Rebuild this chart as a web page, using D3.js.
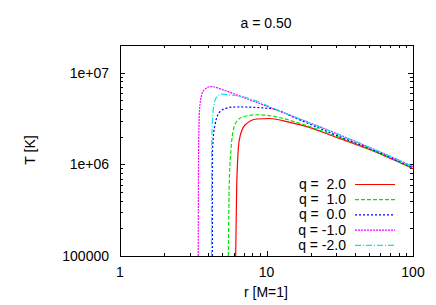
<!DOCTYPE html>
<html>
<head>
<meta charset="utf-8">
<script src="https://cdn.jsdelivr.net/npm/d3@7"></script>
<style>
  body { margin: 0; background: #fff; }
  text { font-family: "Liberation Sans", Arial, sans-serif; font-size: 14px; fill: #000; }
</style>
</head>
<body>
<div id="chart"><svg></svg></div>
<script>
const width = 436;
const height = 305;

// values, [r, T]
const qLabels = ['q =  2.0', 'q =  1.0', 'q =  0.0', 'q = -1.0', 'q = -2.0'];
const colors = ['#ff0000', '#00e600', '#0000ff', '#ff00ff', '#00eaea'];
const dashes = [null, '4,2', '2,2', '2,1', '6,2,1,2'];

const q2 = [[6.16, 1e5], [6.26, 5.8e5], [6.52, 1.85e6], [7.13, 2.68e6], [8.58, 3.12e6],
  [10.56, 3.16e6], [14.47, 2.86e6], [19.82, 2.51e6], [27.13, 2.09e6], [50.87, 1.44e6], [100, 8.97e5]];
const q1 = [[5.49, 1e5], [5.57, 6.3e5], [5.72, 1.44e6], [5.88, 2.19e6], [6.26, 2.93e6],
  [6.94, 3.30e6], [8.75, 3.47e6], [12.37, 3.22e6], [16.93, 2.79e6], [27.13, 2.14e6], [50.87, 1.46e6], [100, 9.1e5]];
const q0 = [[4.27, 1e5], [4.28, 1.44e6], [4.45, 2.70e6], [4.82, 3.77e6], [5.35, 4.10e6],
  [5.93, 4.21e6], [6.59, 4.22e6], [10.56, 4.06e6], [16.93, 3.04e6], [27.13, 2.21e6], [50.87, 1.48e6], [100, 9.2e5]];
const qm1 = [[3.42, 1e5], [3.44, 1.44e6], [3.49, 3.94e6], [3.60, 5.58e6], [3.75, 6.48e6],
  [4.18, 7.05e6], [5.05, 6.48e6], [6.59, 5.54e6], [13.38, 3.60e6], [27.13, 2.31e6], [50.87, 1.52e6], [100, 9.45e5]];
const qm2 = [[4.21, 1e5], [4.22, 1.44e6], [4.28, 3.06e6], [4.38, 4.46e6], [4.52, 5.27e6],
  [4.95, 5.82e6], [5.63, 5.72e6], [6.59, 5.54e6], [13.38, 3.60e6], [27.13, 2.31e6], [50.87, 1.52e6], [100, 9.45e5]];

const seriesData = [q2, q1, q0, qm1, qm2];

const xTickValues = [1, 10, 100];
const yTickValues = [1e5, 1e6, 1e7];
const yTickLabels = ['100000', '1e+06', '1e+07'];

const margin = {left: 120, right: 23, top: 45, bottom: 49};
const plotW = width - margin.left - margin.right;
const plotH = height - margin.top - margin.bottom;

const svg = d3.select('#chart').select('svg')
    .attr('width', width)
    .attr('height', height);

const x = d3.scaleLog().domain([1, 100]).range([0, plotW]);
const y = d3.scaleLog().domain([1e5, 2e7]).range([plotH, 0]);

const g = svg.append('g').attr('transform', `translate(${margin.left},${margin.top})`);

svg.append('defs').append('clipPath').attr('id', 'clip')
  .append('rect').attr('width', plotW).attr('height', plotH);

// minor + major ticks (inward, mirrored)
const xMinor = [];
for (let d = 1; d < 100; d *= 10) for (let k = 2; k <= 9; k++) xMinor.push(d * k);
const yMinor = [];
for (let d = 1e5; d < 2e7; d *= 10) for (let k = 2; k <= 9; k++) if (d * k <= 2e7) yMinor.push(d * k);

const ticks = g.append('g').attr('stroke', '#000').attr('stroke-width', 1);
xMinor.forEach(v => {
  const px = Math.round(x(v)) + 0.5;
  ticks.append('line').attr('x1', px).attr('x2', px).attr('y1', plotH).attr('y2', plotH - 3);
  ticks.append('line').attr('x1', px).attr('x2', px).attr('y1', 0).attr('y2', 3);
});
xTickValues.forEach(v => {
  const px = Math.round(x(v)) + 0.5;
  ticks.append('line').attr('x1', px).attr('x2', px).attr('y1', plotH).attr('y2', plotH - 5);
  ticks.append('line').attr('x1', px).attr('x2', px).attr('y1', 0).attr('y2', 5);
});
yMinor.forEach(v => {
  const py = Math.round(y(v)) + 0.5;
  ticks.append('line').attr('x1', 0).attr('x2', 3).attr('y1', py).attr('y2', py);
  ticks.append('line').attr('x1', plotW).attr('x2', plotW - 3).attr('y1', py).attr('y2', py);
});
yTickValues.forEach(v => {
  const py = Math.round(y(v)) + 0.5;
  ticks.append('line').attr('x1', 0).attr('x2', 5).attr('y1', py).attr('y2', py);
  ticks.append('line').attr('x1', plotW).attr('x2', plotW - 5).attr('y1', py).attr('y2', py);
});

// tick labels
g.selectAll('text.xt').data(xTickValues).join('text')
  .attr('class', 'xt')
  .attr('x', d => x(d))
  .attr('y', plotH + 21)
  .attr('text-anchor', 'middle')
  .text(d => d);

g.selectAll('text.yt').data(yTickValues).join('text')
  .attr('class', 'yt')
  .attr('x', -11)
  .attr('y', d => y(d) + 5)
  .attr('text-anchor', 'end')
  .text((d, i) => yTickLabels[i]);

// curves
const line = d3.line()
  .x(d => x(d[0]))
  .y(d => y(d[1]))
  .curve(d3.curveMonotoneX);

const curves = g.append('g').attr('clip-path', 'url(#clip)');
seriesData.forEach((s, i) => {
  curves.append('path')
    .datum(s)
    .attr('fill', 'none')
    .attr('stroke', colors[i])
    .attr('stroke-width', 1.2)
    .attr('stroke-dasharray', dashes[i])
    .attr('d', line);
});

// frame
g.append('rect')
  .attr('x', 0.5).attr('y', 0.5)
  .attr('width', plotW).attr('height', plotH)
  .attr('fill', 'none').attr('stroke', '#000');

// legend
const legend = g.append('g').attr('transform', `translate(${plotW - 58},${139})`);
qLabels.forEach((lab, i) => {
  const row = legend.append('g').attr('transform', `translate(0,${i * 15.2})`);
  row.append('text').attr('x', -9).attr('y', 5).attr('text-anchor', 'end')
    .style('white-space', 'pre').text(lab);
  row.append('line')
    .attr('x1', 0).attr('x2', 40).attr('y1', 0.5).attr('y2', 0.5)
    .attr('stroke', colors[i])
    .attr('stroke-width', 1.2)
    .attr('stroke-dasharray', dashes[i]);
});

// titles
svg.append('text').attr('x', 266).attr('y', 28).attr('text-anchor', 'middle').text('a = 0.50');
svg.append('text').attr('x', 266).attr('y', 297).attr('text-anchor', 'middle').text('r [M=1]');
svg.append('text')
  .attr('transform', 'translate(35,150) rotate(-90)')
  .attr('text-anchor', 'middle')
  .text('T [K]');
</script>
</body>
</html>
